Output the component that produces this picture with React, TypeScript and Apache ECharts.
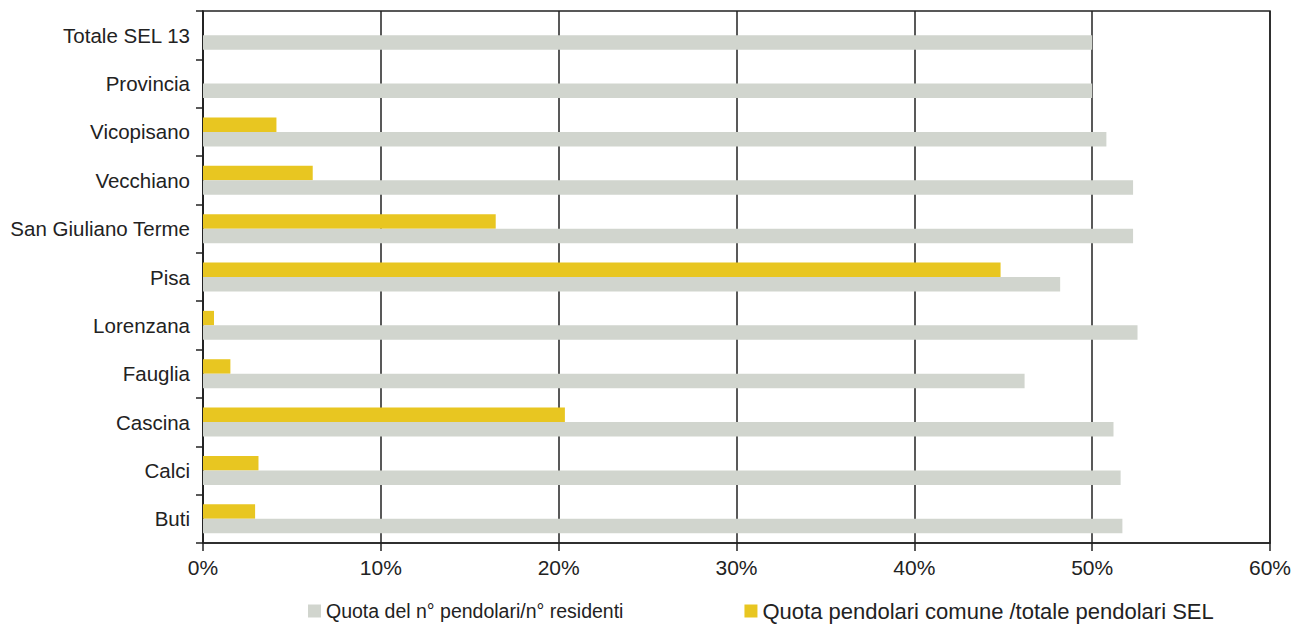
import React, { useEffect, useRef } from "react";
import * as echarts from "echarts";

const categories = [
  "Buti",
  "Calci",
  "Cascina",
  "Fauglia",
  "Lorenzana",
  "Pisa",
  "San Giuliano Terme",
  "Vecchiano",
  "Vicopisano",
  "Provincia",
  "Totale SEL 13",
];

const seriesGrayName = "Quota del n° pendolari/n° residenti";
const seriesYellowName = "Quota pendolari comune /totale pendolari SEL";

const grayValues = [51.7, 51.6, 51.2, 46.2, 52.55, 48.2, 52.3, 52.3, 50.8, 50.0, 50.0];
const yellowValues = [2.93, 3.12, 20.35, 1.54, 0.62, 44.85, 16.46, 6.17, 4.13, null, null];

const xTicks = { min: 0, max: 60, interval: 10 };

const FONT = "'Liberation Sans', Arial, Helvetica, sans-serif";

export default function App() {
  const ref = useRef<HTMLDivElement>(null);

  useEffect(() => {
    if (!ref.current) return;
    const chart = echarts.init(ref.current, undefined, { renderer: "svg" });
    chart.setOption({
      animation: false,
      textStyle: { fontFamily: FONT },
      grid: {
        left: 203,
        right: 26,
        top: 11,
        bottom: 81,
        containLabel: false,
        show: true,
        borderColor: "#222",
        borderWidth: 1.5,
      },
      legend: {
        left: 303,
        top: 595,
        itemWidth: 13,
        itemHeight: 13,
        itemGap: 121,
        icon: "rect",
        data: [
          { name: seriesGrayName },
          { name: seriesYellowName, textStyle: { fontSize: 22 } },
        ],
        textStyle: { fontSize: 19.5, color: "#222", fontFamily: FONT },
      },
      xAxis: {
        type: "value",
        min: xTicks.min,
        max: xTicks.max,
        interval: xTicks.interval,
        axisLine: { show: true, lineStyle: { color: "#222", width: 1.5 } },
        axisTick: { show: true, inside: false, length: 8, lineStyle: { color: "#222", width: 1.5 } },
        axisLabel: {
          formatter: "{value}%",
          fontSize: 21,
          color: "#222",
          margin: 14,
          fontFamily: FONT,
        },
        splitLine: { show: true, lineStyle: { color: "#222", width: 1.5 } },
      },
      yAxis: {
        type: "category",
        data: categories,
        axisLine: { show: true, lineStyle: { color: "#222", width: 1.5 } },
        axisTick: { show: true, inside: false, length: 7, lineStyle: { color: "#222", width: 1.5 } },
        axisLabel: { fontSize: 20.5, color: "#222", margin: 13, fontFamily: FONT },
        splitLine: { show: false },
      },
      series: [
        {
          name: seriesYellowName,
          type: "bar",
          data: yellowValues,
          barWidth: 14.5,
          barGap: "0%",
          itemStyle: { color: "#E8C621" },
        },
        {
          name: seriesGrayName,
          type: "bar",
          data: grayValues,
          barWidth: 14.5,
          barGap: "0%",
          itemStyle: { color: "#D1D5CE" },
        },
      ],
    });
    return () => chart.dispose();
  }, []);

  return (
    <div
      ref={ref}
      style={{ position: "fixed", left: 0, top: 0, width: 1296, height: 624, background: "#fff" }}
    />
  );
}
